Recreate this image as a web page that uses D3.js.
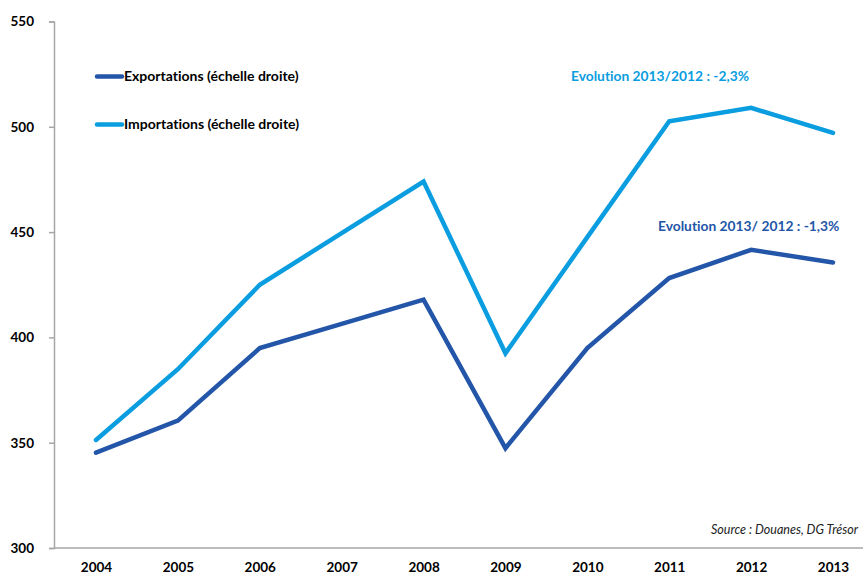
<!DOCTYPE html>
<html>
<head>
<meta charset="utf-8">
<script src="https://cdn.jsdelivr.net/npm/d3@7"></script>
<style>
  html, body { margin: 0; padding: 0; background: #fff; }
  svg { display: block; }
  text { font-family: Lato, "Open Sans", sans-serif; font-variant-ligatures: none; font-feature-settings: "liga" 0, "clig" 0; }
</style>
</head>
<body>
<svg id="chart" width="863" height="574"></svg>
<script>
// Trade in goods, billions of euros
const years = ["2004", "2005", "2006", "2007", "2008", "2009", "2010", "2011", "2012", "2013"];
const exportations = [345.3, 360.5, 394.9, 406.4, 417.9, 347.4, 394.9, 428.2, 441.6, 435.6];
const importations = [351.3, 384.9, 425.0, 449.5, 474.0, 392.5, 447.6, 502.6, 509.0, 497.1];
const yTicks = [300, 350, 400, 450, 500, 550];

const colExp = "#2356a8";
const colImp = "#0a9de0";
const axisCol = "#a6a6a6";

const svg = d3.select("#chart");

const x = d3.scalePoint().domain(years).range([96, 833]);
const y = d3.scaleLinear().domain([300, 550]).range([548, 21.5]);

// Y axis
const yAxis = svg.append("g").attr("transform", "translate(54,0)")
  .call(d3.axisLeft(y).tickValues(yTicks).tickSize(5).tickPadding(15).tickFormat(d3.format("d")));
yAxis.select(".domain").attr("stroke", axisCol).attr("stroke-width", 1.5);
yAxis.selectAll(".tick line").attr("stroke", axisCol).attr("stroke-width", 1.5);
yAxis.selectAll(".tick text").attr("fill", "#000").attr("font-size", 13.5).attr("font-weight", "bold")
  .attr("font-family", "Lato, 'Open Sans', sans-serif");

// X axis baseline
svg.append("line").attr("x1", 54).attr("x2", 863).attr("y1", y(300)).attr("y2", y(300))
  .attr("stroke", axisCol).attr("stroke-width", 1.5);

const xAxis = svg.append("g").attr("transform", `translate(0,${y(300)})`)
  .call(d3.axisBottom(x).tickSize(0).tickPadding(14));
xAxis.select(".domain").remove();
xAxis.selectAll(".tick text").attr("fill", "#000").attr("font-size", 13.5).attr("font-weight", "bold")
  .attr("font-family", "Lato, 'Open Sans', sans-serif");

// Lines
const line = d3.line().x((d, i) => x(years[i])).y(d => y(d));
[[importations, colImp], [exportations, colExp]].forEach(([vals, c]) => {
  svg.append("path").datum(vals).attr("d", line)
    .attr("fill", "none").attr("stroke", c).attr("stroke-width", 4.5)
    .attr("stroke-linejoin", "miter").attr("stroke-linecap", "round");
});

// Legend
const legend = [
  { label: "Exportations (échelle droite)", color: colExp, y: 76.5 },
  { label: "Importations (échelle droite)", color: colImp, y: 124.5 }
];
legend.forEach(l => {
  svg.append("line").attr("x1", 97).attr("x2", 122).attr("y1", l.y).attr("y2", l.y)
    .attr("stroke", l.color).attr("stroke-width", 4.5).attr("stroke-linecap", "round");
  svg.append("text").attr("x", 124).attr("y", l.y).attr("dy", "0.35em")
    .attr("font-size", 14).attr("font-weight", "bold").attr("fill", "#000").text(l.label);
});

// Annotations
svg.append("text").attr("x", 571).attr("y", 76).attr("dy", "0.35em")
  .attr("font-size", 13.8).attr("font-weight", "bold").attr("fill", colImp)
  .text("Evolution 2013/2012 : -2,3%");
svg.append("text").attr("x", 658).attr("y", 226).attr("dy", "0.35em")
  .attr("font-size", 13.8).attr("font-weight", "bold").attr("fill", colExp)
  .text("Evolution 2013/ 2012 : -1,3%");

// Source
svg.append("text").attr("x", 858).attr("y", 530).attr("dy", "0.35em").attr("text-anchor", "end")
  .attr("font-size", 12.5).attr("font-style", "italic").attr("fill", "#222")
  .text("Source : Douanes, DG Trésor");
</script>
</body>
</html>
